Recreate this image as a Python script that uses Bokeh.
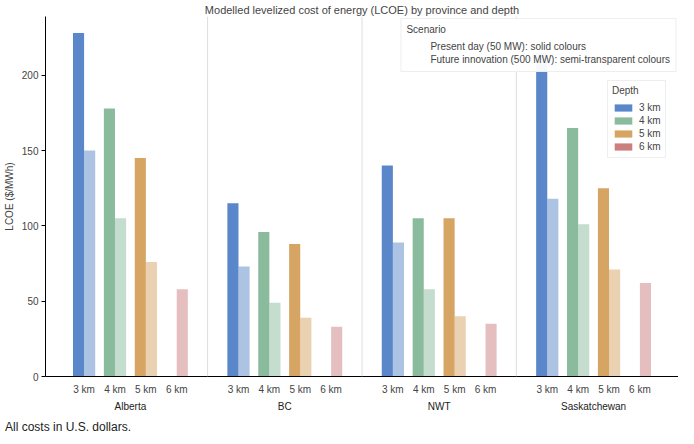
from bokeh.plotting import figure
from bokeh.models import FactorRange, ColumnDataSource, Legend, LegendItem, Span, Div
from bokeh.layouts import column
from bokeh.transform import dodge
from bokeh.embed import file_html
from bokeh.resources import INLINE

provinces = ["Alberta", "BC", "NWT", "Saskatchewan"]
depths = ["3 km", "4 km", "5 km", "6 km"]
present = [[228, 178, 145, 0], [115, 96, 88, 0], [140, 105, 105, 0], [215, 165, 125, 0]]
future = [[150, 105, 76, 58], [73, 49, 39, 33], [89, 58, 40, 35], [118, 101, 71, 62]]
colors = ["#5a87c9", "#8bbb9d", "#d6a463", "#cc7f7f"]

x, pres, fut, col = [], [], [], []
for i, pv in enumerate(provinces):
    for j, d in enumerate(depths):
        x.append((pv, d)); pres.append(present[i][j]); fut.append(future[i][j]); col.append(colors[j])
src = ColumnDataSource(dict(x=x, pres=pres, fut=fut, col=col))

xr = FactorRange(*x, group_padding=1.0, range_padding=0.75, range_padding_units="absolute")
p = figure(x_range=xr, y_range=(0, 239), width=678, height=414, output_backend="svg",
           toolbar_location=None, title="Modelled levelized cost of energy (LCOE) by province and depth",
           min_border_left=0, min_border_right=0, min_border_top=0, min_border_bottom=0)
p.title.align = "center"; p.title.text_font = "Liberation Sans"; p.title.text_font_size = "11px"
p.title.text_font_style = "normal"; p.title.standoff = 2
p.outline_line_color = None
p.xgrid.grid_line_color = None; p.ygrid.grid_line_color = None

r1 = p.vbar(x=dodge("x", -0.18, range=xr), top="pres", width=0.36, source=src, fill_color="col", line_color=None)
r2 = p.vbar(x=dodge("x", 0.18, range=xr), top="fut", width=0.36, source=src, fill_color="col", fill_alpha=0.5, line_color=None)

for loc in [4.5, 9.5, 14.5]:
    p.add_layout(Span(location=loc, dimension="height", line_color="#dddddd", line_width=1))

for ax in (p.xaxis[0], p.yaxis[0]):
    ax.major_label_text_font = "Liberation Sans"; ax.major_label_text_font_size = "10px"
    ax.axis_label_text_font = "Liberation Sans"; ax.axis_label_text_font_size = "10px"
    ax.axis_label_text_font_style = "normal"
    ax.major_tick_out = 4; ax.major_tick_in = 0; ax.minor_tick_out = 0; ax.minor_tick_in = 0
    ax.major_label_standoff = 3
p.xaxis.group_text_font = "Liberation Sans"; p.xaxis.group_text_font_size = "10px"
p.xaxis.group_text_font_style = "normal"; p.xaxis.group_text_color = "#222222"
p.xaxis.separator_line_color = None
p.xaxis.major_tick_line_color = None
p.yaxis.axis_label = "LCOE ($/MWh)"
p.yaxis.ticker = [0, 50, 100, 150, 200]
p.yaxis.axis_label_standoff = 4

dummy = p.vbar(x=[("Alberta", "3 km")], top=[0], width=0, fill_alpha=0, line_alpha=0)
leg1 = Legend(items=[LegendItem(label="Present day (50 MW): solid colours", renderers=[dummy]),
                     LegendItem(label="Future innovation (500 MW): semi-transparent colours", renderers=[dummy])],
              title="Scenario", location="top_right", glyph_width=0, glyph_height=13, spacing=0,
              label_text_font="Liberation Sans", label_text_font_size="10px", title_text_font="Liberation Sans",
              title_text_font_size="10px", title_text_font_style="normal", label_height=13,
              border_line_color="#dddddd", margin=2, padding=5, label_standoff=24)
items = []
for j, d in enumerate(depths):
    rr = p.vbar(x=[("Alberta", "3 km")], top=[0], width=0, fill_color=colors[j], line_color=None)
    items.append(LegendItem(label=d, renderers=[rr]))
leg2 = Legend(items=items, title="Depth", location=(0, 0), glyph_width=22, glyph_height=9, spacing=0,
              label_text_font="Liberation Sans", label_text_font_size="10px", title_text_font="Liberation Sans",
              title_text_font_size="10px", title_text_font_style="normal", label_height=13,
              border_line_color="#dddddd", padding=4, label_standoff=5)
p.add_layout(leg1); p.add_layout(leg2)
leg2.location = (562, 218)

div = Div(text="All costs in U.S. dollars.", styles={"font-family": "Liberation Sans", "font-size": "12px",
                                                       "color": "#222"})
out = column(p, div, spacing=0)
open("out.html", "w").write(file_html(out, INLINE))
